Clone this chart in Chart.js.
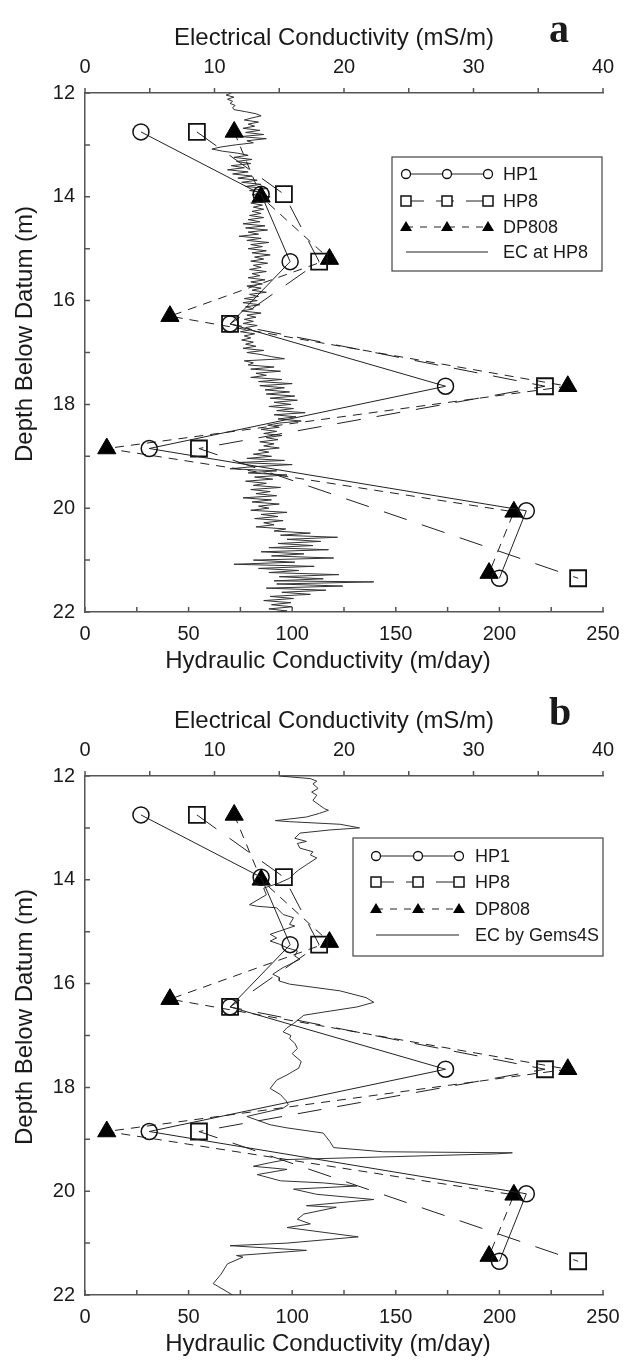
<!DOCTYPE html>
<html>
<head>
<meta charset="utf-8">
<script src="https://cdn.jsdelivr.net/npm/chart.js@4.4.1/dist/chart.umd.min.js"></script>
<style>
  html, body { margin: 0; padding: 0; background: #fff; }
  body { width: 635px; height: 1366px; position: relative; overflow: hidden; }
  canvas { position: absolute; left: 0; }
  #panelA { top: 0; }
  #panelB { top: 683px; }
</style>
</head>
<body>
<canvas id="panelA" width="635" height="683"></canvas>
<canvas id="panelB" width="635" height="683"></canvas>
<script>
// Hydraulic conductivity (m/day) against depth (m), same in both panels
const hp1Depth = [12.75, 13.95, 15.25, 16.45, 17.65, 18.85, 20.05, 21.35];
const hp1Hk = [27, 85, 99, 70, 174, 31, 213, 200];
const hp8Depth = [12.75, 13.95, 15.25, 16.45, 17.65, 18.85, 21.35];
const hp8Hk = [54, 96, 113, 70, 222, 55, 238];
const dp808Depth = [12.75, 14.0, 15.2, 16.3, 17.65, 18.85, 20.07, 21.25];
const dp808Hk = [72, 85, 118, 41, 233, 10.5, 207, 195];

// Electrical conductivity (mS/m) log, panel a (EC at HP8)
const ecDepthA = [
  12.00, 12.04, 12.08, 12.12, 12.16, 12.20, 12.24, 12.28, 12.32, 12.36, 12.40, 12.44, 12.48, 12.52, 12.56, 12.60,
  12.64, 12.68, 12.72, 12.76, 12.80, 12.84, 12.88, 12.92, 12.96, 13.00, 13.04, 13.08, 13.12, 13.16, 13.20, 13.24,
  13.28, 13.32, 13.36, 13.40, 13.44, 13.48, 13.52, 13.56, 13.60, 13.64, 13.68, 13.72, 13.76, 13.80, 13.84, 13.88,
  13.92, 13.96, 14.00, 14.04, 14.08, 14.12, 14.16, 14.20, 14.24, 14.28, 14.32, 14.36, 14.40, 14.44, 14.48, 14.52,
  14.56, 14.60, 14.64, 14.68, 14.72, 14.76, 14.80, 14.84, 14.88, 14.92, 14.96, 15.00, 15.04, 15.08, 15.12, 15.16,
  15.20, 15.24, 15.28, 15.32, 15.36, 15.40, 15.44, 15.48, 15.52, 15.56, 15.60, 15.64, 15.68, 15.72, 15.76, 15.80,
  15.84, 15.88, 15.92, 15.96, 16.00, 16.04, 16.08, 16.12, 16.16, 16.20, 16.24, 16.28, 16.32, 16.36, 16.40, 16.44,
  16.48, 16.52, 16.56, 16.60, 16.64, 16.68, 16.72, 16.76, 16.80, 16.84, 16.88, 16.92, 16.96, 17.00, 17.04, 17.08,
  17.12, 17.16, 17.20, 17.24, 17.28, 17.32, 17.36, 17.40, 17.44, 17.48, 17.52, 17.56, 17.60, 17.64, 17.68, 17.72,
  17.76, 17.80, 17.84, 17.88, 17.92, 17.96, 18.00, 18.04, 18.08, 18.12, 18.16, 18.20, 18.24, 18.28, 18.32, 18.36,
  18.40, 18.44, 18.48, 18.52, 18.56, 18.60, 18.64, 18.68, 18.72, 18.76, 18.80, 18.84, 18.88, 18.92, 18.96, 19.00,
  19.04, 19.08, 19.12, 19.16, 19.20, 19.24, 19.28, 19.32, 19.36, 19.40, 19.44, 19.48, 19.52, 19.56, 19.60, 19.64,
  19.68, 19.72, 19.76, 19.80, 19.84, 19.88, 19.92, 19.96, 20.00, 20.04, 20.08, 20.12, 20.16, 20.20, 20.24, 20.28,
  20.32, 20.36, 20.40, 20.44, 20.48, 20.52, 20.56, 20.60, 20.64, 20.68, 20.72, 20.76, 20.80, 20.84, 20.88, 20.92,
  20.96, 21.00, 21.04, 21.08, 21.12, 21.16, 21.20, 21.24, 21.28, 21.32, 21.36, 21.40, 21.42, 21.46, 21.50, 21.54,
  21.58, 21.62, 21.66, 21.70, 21.74, 21.78, 21.82, 21.86, 21.90, 21.94, 21.98, 22.00
];
const ecA = [
  11.3, 10.9, 11.5, 11.0, 11.4, 11.2, 11.6, 11.4, 11.5, 12.4, 13.2, 13.6, 12.9, 12.3, 13.4, 12.6,
  13.1, 12.2, 13.5, 12.4, 13.8, 12.0, 14.0, 12.5, 13.0, 11.6, 10.5, 9.8, 10.6, 11.8, 12.6, 11.5,
  12.9, 11.7, 12.8, 11.3, 12.3, 11.0, 12.6, 11.4, 12.9, 11.8, 13.3, 12.1, 13.6, 12.4, 14.1, 12.7,
  13.9, 12.9, 14.3, 13.2, 13.9, 12.8, 13.7, 13.0, 13.8, 12.9, 13.6, 12.7, 13.8, 12.6, 13.5, 12.2,
  13.9, 12.4, 14.1, 12.6, 13.4, 11.9, 13.6, 12.5, 14.2, 12.8, 13.7, 12.6, 14.0, 12.9, 14.3, 13.1,
  13.8, 12.8, 14.1, 13.0, 13.6, 12.7, 14.0, 12.9, 13.5, 12.6, 13.9, 12.8, 13.7, 12.5, 13.6, 12.9,
  14.0, 12.7, 13.4, 12.3, 13.3, 12.2, 13.5, 12.4, 13.0, 12.1, 13.6, 12.5, 13.2, 12.3, 13.0, 12.2,
  13.3, 12.4, 12.9, 12.0, 13.1, 12.3, 12.8, 12.1, 13.0, 12.4, 13.2, 12.2, 13.8, 12.5, 13.6, 14.4,
  15.4, 12.3, 13.0, 12.6, 14.6, 12.8, 15.1, 13.2, 14.0, 12.8, 15.2, 13.4, 16.0, 13.5, 15.4, 13.9,
  15.8, 14.0, 16.2, 14.3, 16.4, 14.6, 15.9, 14.2, 16.1, 14.8, 17.0, 14.6, 16.3, 14.9, 16.7, 15.0,
  14.1, 15.0, 13.6, 14.8, 13.8, 15.2, 14.0, 14.9, 13.5, 14.6, 13.8, 15.0, 13.4, 14.2, 13.0, 14.4,
  12.5, 15.4, 11.8, 16.0, 13.0, 11.2, 14.8, 12.6, 15.6, 13.1, 14.5, 12.4, 14.0, 13.0, 15.1, 12.8,
  14.3, 13.2, 14.8, 12.2, 14.4, 12.9, 15.0, 13.4, 14.2, 12.8, 15.6, 13.6, 14.9, 13.1, 15.3, 13.8,
  14.6, 13.2, 15.5, 14.6, 17.4, 15.1, 19.5, 15.6, 18.2, 14.9, 17.6, 14.2, 18.8, 13.6, 16.9, 14.4,
  19.2, 13.0, 16.2, 11.5, 17.7, 13.4, 16.5, 14.2, 19.6, 15.0, 18.4, 14.6, 22.3, 14.8, 19.9, 14.0,
  18.6, 15.2, 17.4, 14.3, 16.1, 13.8, 15.9, 14.4, 16.0, 14.2, 15.6, 14.8
];

// Electrical conductivity (mS/m) log, panel b (EC by Gems4S)
const ecDepthB = [
  12.00, 12.05, 12.10, 12.15, 12.24, 12.31, 12.37, 12.47, 12.56, 12.63, 12.66, 12.72, 12.79, 12.86, 12.88, 12.93,
  13.00, 13.04, 13.10, 13.20, 13.26, 13.30, 13.39, 13.46, 13.52, 13.58, 13.71, 13.81, 13.87, 13.97, 14.06, 14.16,
  14.29, 14.48, 14.51, 14.54, 14.67, 14.73, 14.86, 14.89, 14.99, 15.05, 15.12, 15.18, 15.24, 15.31, 15.37, 15.47,
  15.53, 15.63, 15.69, 15.82, 15.88, 15.95, 16.01, 16.07, 16.14, 16.27, 16.36, 16.45, 16.55, 16.61, 16.77, 16.85,
  16.93, 17.00, 17.06, 17.15, 17.25, 17.35, 17.50, 17.63, 17.70, 17.76, 17.86, 18.02, 18.14, 18.25, 18.33, 18.40,
  18.56, 18.72, 18.78, 18.88, 19.04, 19.16, 19.24, 19.26, 19.28, 19.39, 19.45, 19.52, 19.58, 19.68, 19.80, 19.84,
  19.90, 19.96, 20.06, 20.16, 20.28, 20.31, 20.44, 20.54, 20.63, 20.70, 20.88, 21.00, 21.05, 21.14, 21.24, 21.27,
  21.40, 21.60, 21.78, 22.00
];
const ecB = [
  15.0, 17.4, 17.9, 17.6, 18.0, 17.5, 17.9, 17.6, 18.1, 18.5, 18.8, 18.1, 17.1, 14.7, 15.8, 19.7,
  21.2, 18.9, 16.6, 16.2, 17.1, 16.4, 16.6, 17.6, 17.4, 17.9, 17.1, 16.5, 16.2, 15.8, 15.0, 13.8,
  14.0, 12.7, 13.3, 14.8, 15.3, 16.1, 15.8, 16.2, 15.0, 14.3, 14.8, 14.3, 15.0, 15.6, 16.4, 16.2,
  16.6, 15.8, 15.3, 14.5, 15.0, 15.0, 15.8, 17.6, 19.7, 21.7, 22.3, 21.0, 18.4, 16.9, 16.1, 15.6,
  15.3, 15.9, 15.8, 16.2, 16.4, 16.0, 16.7, 16.5, 16.0, 15.6, 14.8, 14.3, 15.1, 15.5, 15.7, 15.3,
  12.5, 14.3, 15.6, 18.4, 18.9, 19.2, 23.0, 33.0, 31.8, 15.6, 14.3, 13.0, 15.6, 13.3, 15.1, 18.4,
  21.0, 16.1, 17.9, 22.3, 17.1, 19.4, 16.9, 16.4, 17.4, 15.6, 21.1, 15.6, 11.2, 17.1, 11.7, 12.2,
  11.0, 10.5, 9.9, 11.4
];

// tick marks
const hkTicks = [0, 25, 50, 75, 100, 125, 150, 175, 200, 225, 250];
const ecTicks = [0, 5, 10, 15, 20, 25, 30, 35, 40];
const depthTicks = [12, 13, 14, 15, 16, 17, 18, 19, 20, 21, 22];

const FONT = "'Liberation Sans', Arial, sans-serif";
const INK = '#1a1a1a';
const AXIS = '#555';

function pairs(xs, ys) {
    return xs.map((x, i) => ({ x: x, y: ys[i] }));
}

// small tick marks: top axis outward, bottom and left axes inward
const tickMarks = {
    id: 'tickMarks',
    afterDraw(chart) {
        const { ctx, chartArea, scales } = chart;
        ctx.save();
        ctx.strokeStyle = AXIS;
        ctx.lineWidth = 1.5;
        ctx.beginPath();
        hkTicks.forEach(v => {
            const px = scales.x.getPixelForValue(v);
            ctx.moveTo(px, chartArea.bottom);
            ctx.lineTo(px, chartArea.bottom - 5);
        });
        ecTicks.forEach(v => {
            const px = scales.x2.getPixelForValue(v);
            ctx.moveTo(px, chartArea.top);
            ctx.lineTo(px, chartArea.top - 5);
        });
        depthTicks.forEach(v => {
            const py = scales.y.getPixelForValue(v);
            ctx.moveTo(chartArea.left, py);
            ctx.lineTo(chartArea.left + 5, py);
        });
        ctx.stroke();
        ctx.restore();
    }
};

// axis titles (SigmaPlot puts them a little off the axis centre)
const axisTitles = {
    id: 'axisTitles',
    afterDraw(chart, args, opts) {
        const ctx = chart.ctx;
        ctx.save();
        ctx.fillStyle = INK;
        ctx.font = '24px ' + FONT;
        ctx.textAlign = 'center';
        ctx.textBaseline = 'middle';
        ctx.fillText('Electrical Conductivity (mS/m)', opts.topX, opts.topY);
        ctx.fillText('Hydraulic Conductivity (m/day)', opts.bottomX, opts.bottomY);
        ctx.translate(opts.leftX, opts.leftY);
        ctx.rotate(-Math.PI / 2);
        ctx.fillText('Depth Below Datum (m)', 0, 0);
        ctx.restore();
    }
};

// SigmaPlot style legend box with three markers per row, and the panel letter
const panelLegend = {
    id: 'panelLegend',
    afterDraw(chart, args, opts) {
        const ctx = chart.ctx;
        const b = opts.box;
        ctx.save();
        ctx.fillStyle = '#fff';
        ctx.fillRect(b.left, b.top, b.right - b.left, b.bottom - b.top);
        ctx.strokeStyle = '#444';
        ctx.lineWidth = 1.2;
        ctx.strokeRect(b.left, b.top, b.right - b.left, b.bottom - b.top);

        const mx = opts.markerX;
        const rows = opts.rowY;
        const drawRowLine = (y, dash) => {
            ctx.setLineDash(dash);
            ctx.strokeStyle = '#222';
            ctx.lineWidth = 1;
            ctx.beginPath();
            ctx.moveTo(mx[0], y);
            ctx.lineTo(mx[2], y);
            ctx.stroke();
            ctx.setLineDash([]);
        };
        // HP1
        drawRowLine(rows[0], []);
        mx.forEach(x => {
            ctx.beginPath();
            ctx.arc(x, rows[0], 4.5, 0, Math.PI * 2);
            ctx.fillStyle = '#fff';
            ctx.fill();
            ctx.lineWidth = 1.3;
            ctx.strokeStyle = '#111';
            ctx.stroke();
        });
        // HP8
        drawRowLine(rows[1], [18, 12]);
        mx.forEach(x => {
            ctx.fillStyle = '#fff';
            ctx.fillRect(x - 5, rows[1] - 5, 10, 10);
            ctx.lineWidth = 1.5;
            ctx.strokeStyle = '#111';
            ctx.strokeRect(x - 5, rows[1] - 5, 10, 10);
        });
        // DP808
        drawRowLine(rows[2], [7, 7]);
        mx.forEach(x => {
            ctx.beginPath();
            ctx.moveTo(x, rows[2] - 6);
            ctx.lineTo(x + 6, rows[2] + 4);
            ctx.lineTo(x - 6, rows[2] + 4);
            ctx.closePath();
            ctx.fillStyle = '#000';
            ctx.fill();
        });
        // EC line
        drawRowLine(rows[3], []);

        ctx.fillStyle = INK;
        ctx.font = '18px ' + FONT;
        ctx.textBaseline = 'middle';
        ctx.textAlign = 'left';
        opts.labels.forEach((t, i) => ctx.fillText(t, opts.textX, rows[i] + 1));

        ctx.font = 'bold 40px "Liberation Serif", "Times New Roman", serif';
        ctx.textBaseline = 'alphabetic';
        ctx.fillText(opts.letter, opts.letterX, opts.letterY);
        ctx.restore();
    }
};

function makePanel(id, letter, ecLabel, ecDepth, ecValues, legend) {
    const tickFont = { family: FONT, size: 20 };
    return new Chart(document.getElementById(id), {
        type: 'scatter',
        data: {
            datasets: [
                {
                    label: 'HP1',
                    data: pairs(hp1Hk, hp1Depth),
                    xAxisID: 'x',
                    showLine: true,
                    borderColor: '#222',
                    borderWidth: 1,
                    pointStyle: 'circle',
                    pointRadius: 8,
                    pointBorderWidth: 1.5,
                    pointBorderColor: '#111',
                    pointBackgroundColor: 'rgba(0,0,0,0)',
                    clip: false,
                    order: 1
                },
                {
                    label: 'HP8',
                    data: pairs(hp8Hk, hp8Depth),
                    xAxisID: 'x',
                    showLine: true,
                    borderColor: '#222',
                    borderWidth: 1,
                    borderDash: [24, 16],
                    pointStyle: 'rect',
                    pointRadius: 11.3,
                    pointBorderWidth: 1.8,
                    pointBorderColor: '#111',
                    pointBackgroundColor: 'rgba(0,0,0,0)',
                    clip: false,
                    order: 2
                },
                {
                    label: 'DP808',
                    data: pairs(dp808Hk, dp808Depth),
                    xAxisID: 'x',
                    showLine: true,
                    borderColor: '#222',
                    borderWidth: 1,
                    borderDash: [9, 7],
                    pointStyle: 'triangle',
                    pointRadius: 10.5,
                    pointBorderWidth: 1,
                    pointBorderColor: '#000',
                    pointBackgroundColor: '#000',
                    clip: false,
                    order: 3
                },
                {
                    label: ecLabel,
                    data: pairs(ecValues, ecDepth),
                    xAxisID: 'x2',
                    showLine: true,
                    borderColor: '#333',
                    borderWidth: 1,
                    pointRadius: 0,
                    order: 10
                }
            ]
        },
        options: {
            responsive: false,
            animation: false,
            devicePixelRatio: 1,
            layout: { padding: { left: 0, right: 32, top: 0, bottom: 0 } },
            plugins: {
                legend: { display: false },
                tooltip: { enabled: false },
                panelLegend: Object.assign({ letter: letter }, legend),
                axisTitles: { topX: 334, topY: 38, bottomX: 328, bottomY: 661, leftX: 25, leftY: 334 }
            },
            scales: {
                x: {
                    type: 'linear',
                    position: 'bottom',
                    min: 0,
                    max: 250,
                    ticks: { stepSize: 50, padding: 10, color: INK, font: tickFont },
                    grid: { display: false, drawTicks: false },
                    border: { display: true, color: AXIS, width: 1.5 },
                    afterFit: s => { s.height = 71; }
                },
                x2: {
                    type: 'linear',
                    axis: 'x',
                    position: 'top',
                    min: 0,
                    max: 40,
                    ticks: { stepSize: 10, padding: 14, color: INK, font: tickFont },
                    grid: { display: false, drawTicks: false },
                    border: { display: true, color: AXIS, width: 1.5 },
                    afterFit: s => { s.height = 93; }
                },
                y: {
                    type: 'linear',
                    position: 'left',
                    reverse: true,
                    min: 12,
                    max: 22,
                    ticks: { stepSize: 2, padding: 10, color: INK, font: tickFont },
                    grid: { display: false, drawTicks: false },
                    border: { display: true, color: AXIS, width: 1.5 },
                    afterFit: s => { s.width = 85; }
                }
            }
        },
        plugins: [tickMarks, axisTitles, panelLegend]
    });
}

makePanel('panelA', 'a', 'EC at HP8', ecDepthA, ecA, {
    box: { left: 392, top: 157, right: 602, bottom: 271 },
    markerX: [406, 447, 488],
    rowY: [174, 201, 227, 252],
    textX: 503,
    labels: ['HP1', 'HP8', 'DP808', 'EC at HP8'],
    letterX: 549,
    letterY: 42
});

makePanel('panelB', 'b', 'EC by Gems4S', ecDepthB, ecB, {
    box: { left: 353, top: 155, right: 603, bottom: 273 },
    markerX: [376, 418, 459],
    rowY: [173, 199, 226, 252],
    textX: 475,
    labels: ['HP1', 'HP8', 'DP808', 'EC by Gems4S'],
    letterX: 549,
    letterY: 42
});
</script>
</body>
</html>
